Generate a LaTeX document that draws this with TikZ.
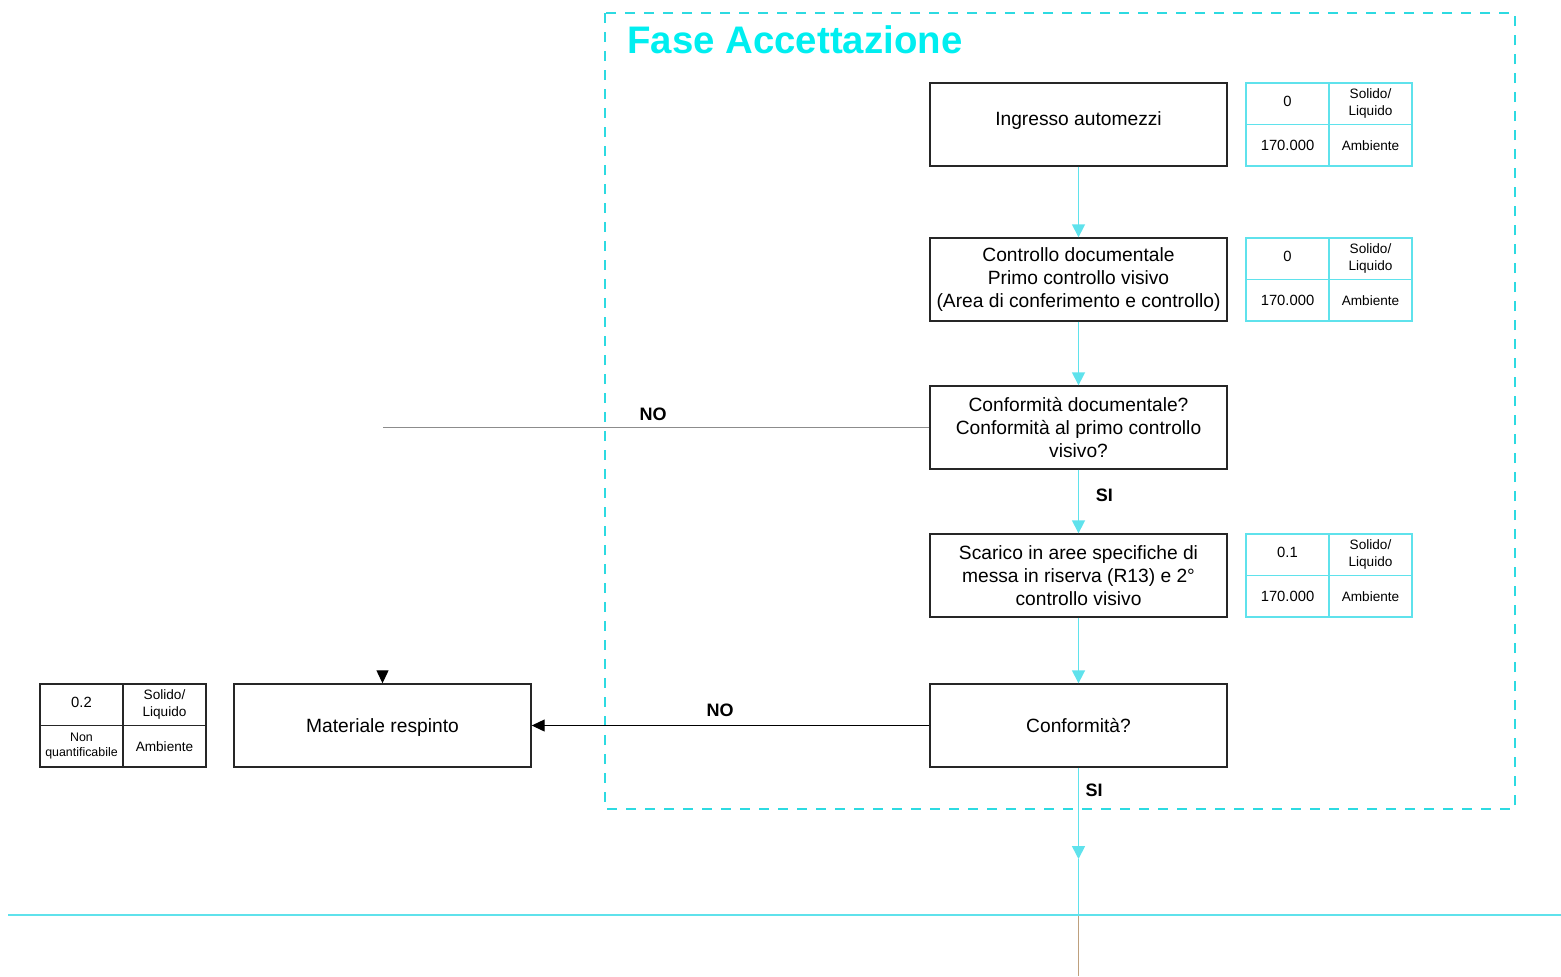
\documentclass[tikz,border=0pt]{standalone}
\usepackage{fontspec}
\setmainfont{Liberation Sans}
\usetikzlibrary{arrows.meta}
\definecolor{titlecyan}{RGB}{0,238,240}
\definecolor{dashcyan}{RGB}{45,218,225}
\definecolor{linecyan}{RGB}{95,226,236}
\definecolor{brownline}{RGB}{190,160,125}
\definecolor{noline}{RGB}{140,140,140}
\begin{document}
\begin{tikzpicture}[x=0.5pt,y=-0.5pt,
  box/.style={draw=black!85,line width=0.7pt,minimum width=148.5pt,minimum height=41.5pt,inner sep=0pt,align=center,font=\fontsize{9.6}{11.5}\selectfont},
  cell/.style={draw=linecyan,line width=0.7pt,minimum width=41.5pt,minimum height=20.75pt,inner sep=0pt,align=center},
  bcell/.style={cell,draw=black!85},
  num/.style={font=\fontsize{7.4}{8.5}\selectfont},
  lab/.style={font=\fontsize{6.8}{8.3}\selectfont},
  small/.style={font=\fontsize{6.2}{7.5}\selectfont},
  cyanarrow/.style={draw=linecyan,line width=0.8pt,-{Triangle[width=6.5pt,length=6.5pt]}},
  blackarrow/.style={draw=black,line width=0.6pt,-{Triangle[width=6pt,length=6.5pt]}},
  lbl/.style={font=\fontsize{9}{10}\selectfont\bfseries},
]
\useasboundingbox (0,0) rectangle (1561,976);

% phase frame
\draw[dashcyan,line width=1pt,dash pattern=on 5pt off 4.5pt] (605,13) rectangle (1515,809);
\node[anchor=west,text=titlecyan,font=\fontsize{19.2}{22}\selectfont\bfseries,inner sep=0pt] (title) at (627,40) {Fase Accettazione};

% main boxes
\node[box,text depth=6pt] (b1) at (1078.5,124.5) {Ingresso automezzi};
\node[box] (b2) at (1078.5,279.5) {Controllo documentale\\Primo controllo visivo\\(Area di conferimento e controllo)};
\node[box] (b3) at (1078.5,427.5) {Conformità documentale?\\Conformità al primo controllo\\visivo?};
\node[box] (b4) at (1078.5,575.5) {Scarico in aree specifiche di\\messa in riserva (R13) e 2°\\controllo visivo};
\node[box] (b5) at (1078.5,725.5) {Conformità?};
\node[box,text height=9pt] (mr) at (382.5,725.5) {Materiale respinto};

% right tables
\node[cell,num,text depth=2.5pt] (t1a) at (1287.5,103.75) {0};
\node[cell,lab] (t1b) at (1370.5,103.75) {Solido/\\Liquido};
\node[cell,num] (t1c) at (1287.5,145.25) {170.000};
\node[cell,lab] (t1d) at (1370.5,145.25) {Ambiente};

\node[cell,num,text depth=2.5pt] (t2a) at (1287.5,258.75) {0};
\node[cell,lab] (t2b) at (1370.5,258.75) {Solido/\\Liquido};
\node[cell,num] (t2c) at (1287.5,300.25) {170.000};
\node[cell,lab] (t2d) at (1370.5,300.25) {Ambiente};

\node[cell,num,text depth=2pt] (t3a) at (1287.5,554.75) {0.1};
\node[cell,lab] (t3b) at (1370.5,554.75) {Solido/\\Liquido};
\node[cell,num] (t3c) at (1287.5,596.25) {170.000};
\node[cell,lab] (t3d) at (1370.5,596.25) {Ambiente};

% left table
\node[bcell,num,text depth=2pt] (t4a) at (81.5,704.75) {0.2};
\node[bcell,lab] (t4b) at (164.5,704.75) {Solido/\\Liquido};
\node[bcell,small] (t4c) at (81.5,746.25) {Non\\quantificabile};
\node[bcell,lab] (t4d) at (164.5,746.25) {Ambiente};

% connectors
\draw[cyanarrow] (b1) -- (b2);
\draw[cyanarrow] (b2) -- (b3);
\draw[cyanarrow] (b3) -- node[pos=0.4,right=5pt,lbl,text=black]{SI} (b4);
\draw[cyanarrow] (b4) -- (b5);

\coordinate (tip) at (1078.5,859);
\coordinate (cross) at (1078.5,915);
\coordinate (bottom) at (1078.5,976);
\draw[cyanarrow] (b5) -- (tip);
\draw[linecyan,line width=0.8pt] (tip) -- (cross);
\node[lbl] (si2) at (1094,790) {SI};
\draw[brownline,line width=0.7pt] (cross) -- (bottom);

\coordinate (hl) at (8,915);
\coordinate (hr) at (1561,915);
\draw[linecyan,line width=0.8pt] (hl) -- (hr);

\coordinate (noend) at (383,427.5);
\draw[noline,line width=0.6pt] (b3.west) -- (noend);
\node[lbl] (no1) at (653,414) {NO};

\draw[blackarrow] (b5.west) -- (mr.east);
\node[lbl] (no2) at (720,710) {NO};

\coordinate (mrtop) at (382.5,671);
\draw[blackarrow] (mrtop) -- (mr.north);
\end{tikzpicture}
\end{document}
